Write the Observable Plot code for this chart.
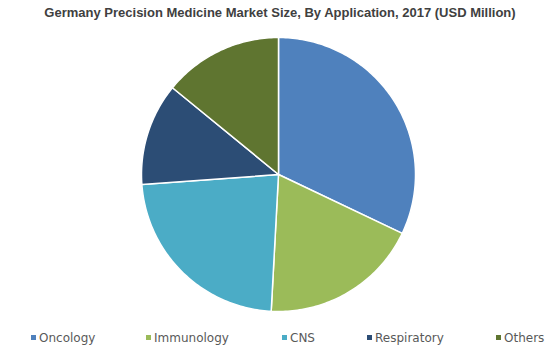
<!DOCTYPE html>
<html><head><meta charset="utf-8">
<script src="https://cdn.jsdelivr.net/npm/d3@7"></script>
<script src="https://cdn.jsdelivr.net/npm/@observablehq/plot@0.6"></script>
<style>
html,body{margin:0;padding:0;background:#fff}
body{width:556px;height:358px;position:relative;overflow:hidden;font-family:"Liberation Sans",Arial,sans-serif}
#title{position:absolute;left:0;top:5px;width:560px;text-align:center;font-weight:bold;font-size:13px;color:#404040;line-height:15px}
#chart{position:absolute;left:0;top:30px}
.leg{position:absolute;top:331px;font-family:"DejaVu Sans",sans-serif;font-size:12px;color:#595959;white-space:nowrap;line-height:14px}
.sw{position:absolute;width:5px;height:5px;top:335px}
</style>
</head><body>
<div id="title">Germany Precision Medicine Market Size, By Application, 2017 (USD Million)</div>
<div id="chart"></div>
<div id="legend"></div>
<script>
const categories = ["Oncology", "Immunology", "CNS", "Respiratory", "Others"];
const shares = [32.1, 18.8, 23.0, 12.1, 14.1];
const colors = ["#4F81BD", "#9BBB59", "#4BACC6", "#2C4D75", "#5F7530"];
const legendX = [31, 146, 282, 367, 496];

const rows = categories.map((c, i) => ({name: c, value: shares[i]}));
const arcs = d3.pie().sort(null).value(d => d.value)(rows);
const features = arcs.map(a => {
  const n = Math.max(2, Math.ceil((a.endAngle - a.startAngle) / (Math.PI / 180)));
  const ring = [[0, 0]];
  for (let k = 0; k <= n; k++) {
    const t = a.startAngle + (a.endAngle - a.startAngle) * k / n;
    ring.push([Math.sin(t), -Math.cos(t)]);
  }
  ring.push([0, 0]);
  return {type: "Feature", properties: {name: a.data.name}, geometry: {type: "Polygon", coordinates: [ring]}};
});
const extent = {type: "MultiPoint", coordinates: [[-1, 0], [1, 0], [0, -1], [0, 1]]};

const chart = Plot.plot({
  width: 556,
  height: 290,
  marginTop: 7,
  marginBottom: 9,
  marginLeft: 0,
  marginRight: 0,
  projection: {type: "identity", domain: extent},
  color: {domain: categories, range: colors},
  marks: [
    Plot.geo(features, {fill: d => d.properties.name, stroke: "#fff", strokeWidth: 1.5})
  ]
});
document.getElementById("chart").appendChild(chart);

const legend = document.getElementById("legend");
categories.forEach((c, i) => {
  const sw = document.createElement("div");
  sw.className = "sw";
  sw.style.left = legendX[i] + "px";
  sw.style.background = colors[i];
  legend.appendChild(sw);
  const t = document.createElement("div");
  t.className = "leg";
  t.style.left = (legendX[i] + 8) + "px";
  t.textContent = c;
  legend.appendChild(t);
});
</script>
</body></html>
